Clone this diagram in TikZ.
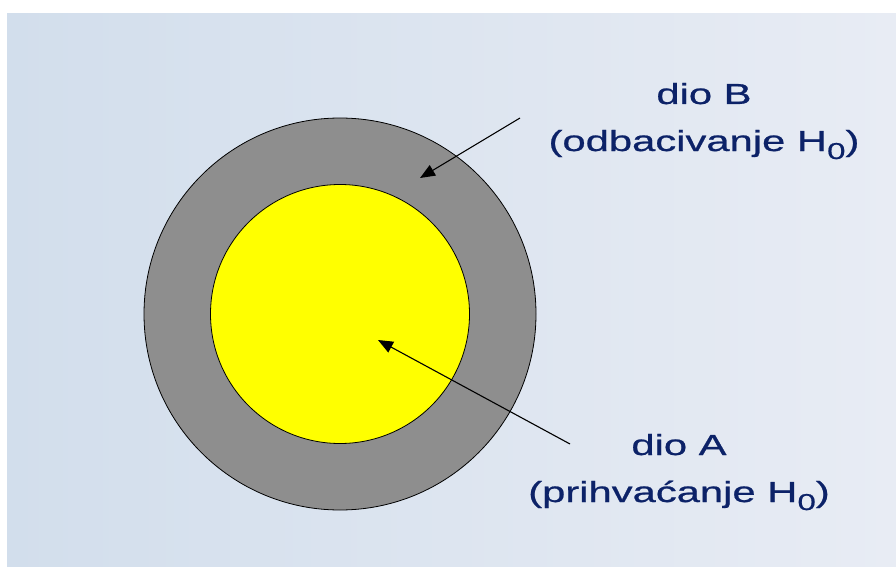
\documentclass[tikz,border=0pt]{standalone}
\usepackage{fontspec}
\usepackage{tikz}
\usetikzlibrary{arrows.meta, positioning}
\newfontfamily\lblfont[FakeStretch=1.44, FakeBold=0.8]{Liberation Sans}
\definecolor{bgleft}{RGB}{210,222,236}
\definecolor{bgright}{RGB}{232,236,244}
\definecolor{ringgray}{RGB}{142,142,142}
\definecolor{accyellow}{RGB}{255,255,0}
\definecolor{lblblue}{RGB}{12,34,104}
\newcommand{\Hnull}{H\raisebox{-8pt}{\fontsize{23}{23}\selectfont 0}}
\tikzset{
  region/.style={circle, draw=black, line width=0.8pt, inner sep=0pt},
  lbl/.style={text=lblblue, font=\lblfont\fontsize{29}{34}\selectfont, anchor=base, inner sep=0pt},
  pointer/.style={draw=black, line width=1.1pt, -{Triangle[length=15pt,width=12pt]}}
}

\begin{document}
\begin{tikzpicture}[x=1pt, y=-1pt]
  \useasboundingbox (0,0) rectangle (896,567);
  \fill[white] (0,0) rectangle (896,567);
  \shade[left color=bgleft, right color=bgright] (7,14) rectangle (896,567);

  \node[region, fill=ringgray, minimum size=392pt] (outer) at (340,314) {};
  \node[region, fill=accyellow, minimum size=259pt] (inner) at (outer.center) {};

  \node[lbl] (dioB) at (704,104) {dio B};
  \node[lbl] (odbB) at (704,151) {(odbacivanje \Hnull)};
  \node[lbl] (dioA) at (679,455) {dio A};
  \node[lbl] (priA) at (679,502) {(prihva\'canje \Hnull)};

  \coordinate (startB) at (520,118);
  \coordinate (tipB) at (420,178);
  \coordinate (startA) at (570,444);
  \coordinate (tipA) at (378,340);

  \draw[pointer] (startB) -- (tipB);
  \draw[pointer] (startA) -- (tipA);
\end{tikzpicture}
\end{document}
